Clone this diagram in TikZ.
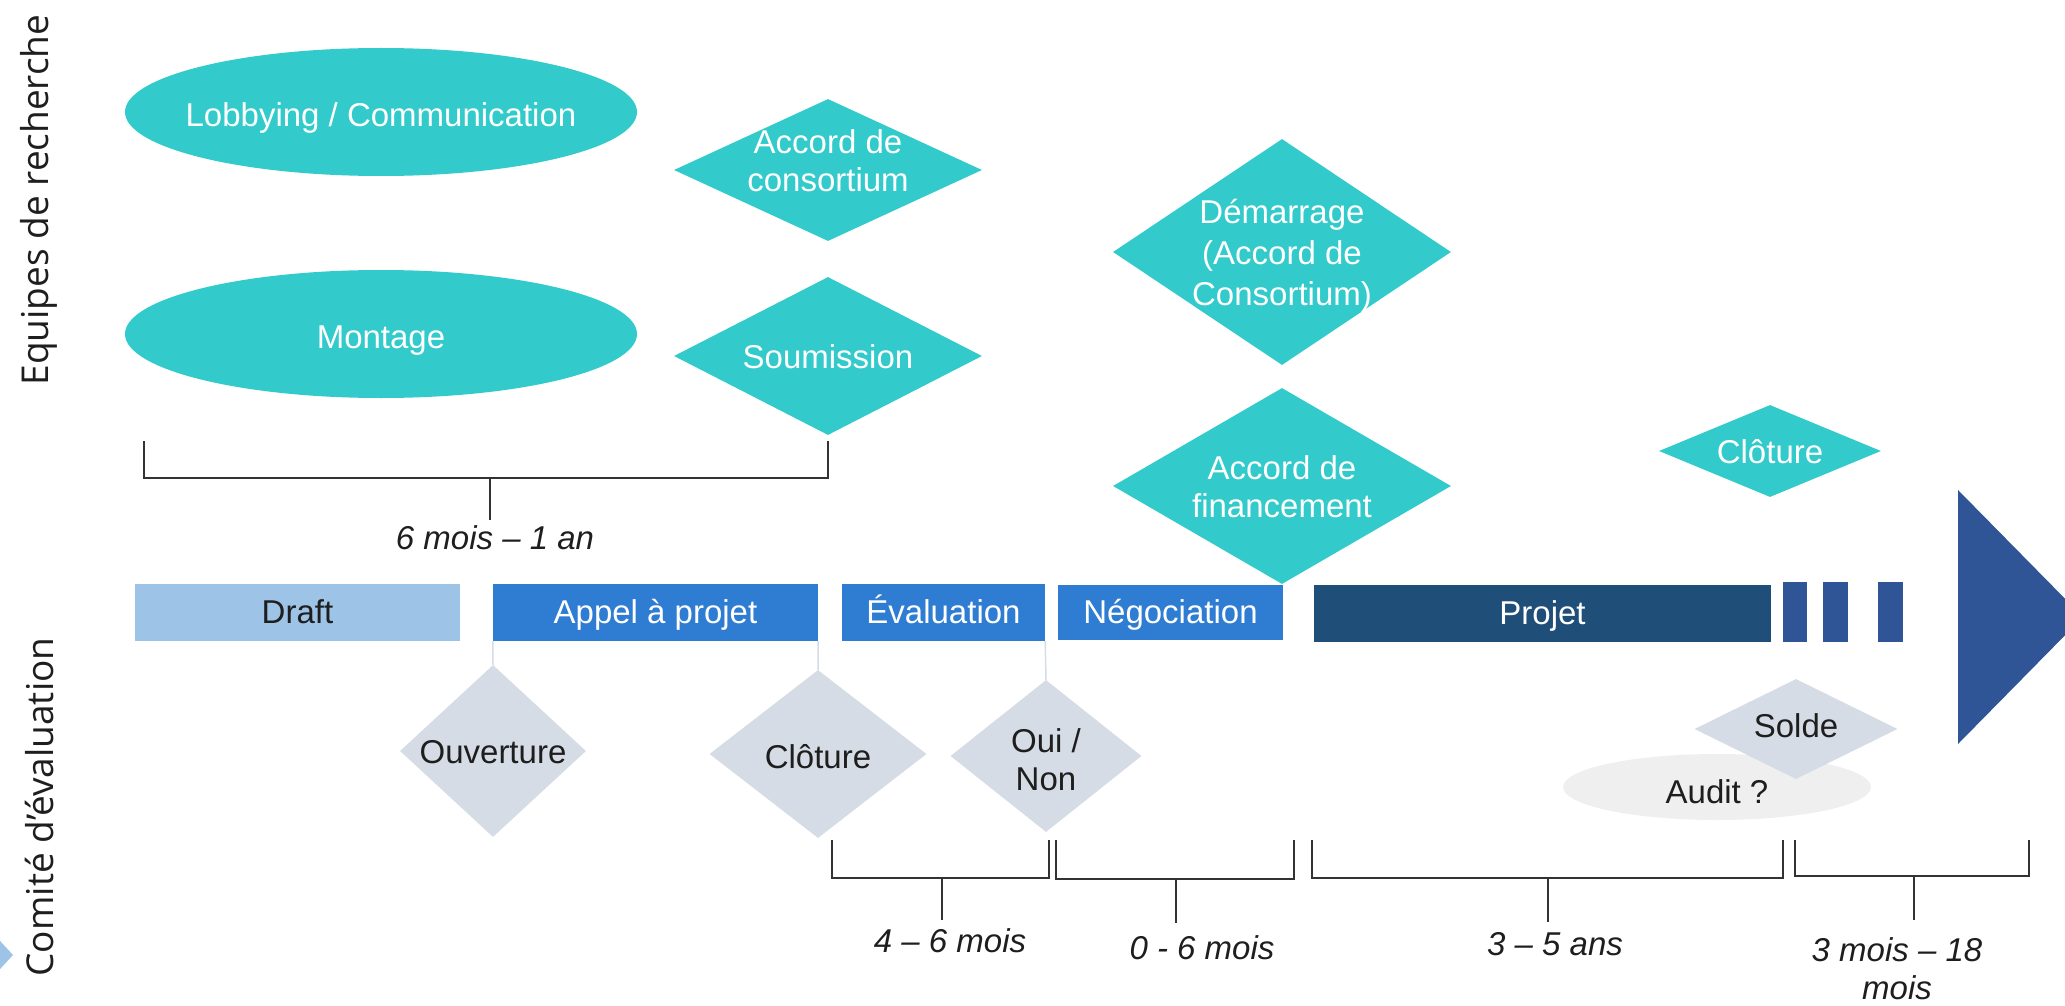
\documentclass[tikz,border=0pt]{standalone}
\usepackage{fontspec}
\setmainfont{Liberation Sans}
\newfontfamily\osans{Open Sans}
\usetikzlibrary{shapes.geometric}
\definecolor{teal1}{RGB}{50,202,202}
\definecolor{draftc}{RGB}{157,195,230}
\definecolor{midblue}{RGB}{46,125,210}
\definecolor{navy}{RGB}{31,78,121}
\definecolor{royal}{RGB}{47,85,151}
\definecolor{grayd}{RGB}{214,220,229}
\definecolor{auditc}{RGB}{239,239,239}
\definecolor{txtd}{RGB}{30,30,30}
\newcommand\zbox[2][-6pt]{\makebox[0pt]{\raisebox{#1}[\height][\depth]{\begin{tabular}{@{}c@{}}#2\end{tabular}}}}
\newcommand\shpfont{\fontsize{33}{38}\selectfont}
\begin{document}
\begin{tikzpicture}[x=1pt,y=-1pt,
  tdia/.style={diamond, fill=teal1, inner sep=0pt, text=white, font=\shpfont},
  gdia/.style={diamond, fill=grayd, inner sep=0pt, text=txtd, font=\shpfont},
  tell/.style={ellipse, fill=teal1, inner sep=0pt, text=white, font=\shpfont},
  barbox/.style={rectangle, inner sep=0pt, minimum height=57pt, text height=30pt, text depth=8pt, text=white, font=\shpfont},
  dur/.style={font=\shpfont\itshape, text=txtd, align=center},
  brk/.style={draw=black!80, line width=2pt},
  link/.style={draw=grayd, line width=1.5pt},
  side/.style={rotate=90, font=\osans\fontsize{37}{40}\selectfont, text=txtd}
]
\useasboundingbox (0,0) rectangle (2065,1006);

% side labels
\node[side] (eq) at (39,200) {Equipes de recherche};
\node[side] (co) at (40,807) {Comité d’évaluation};
\fill[draftc] (-22,917) -- (13,955) -- (-22,993) -- cycle;

% research team shapes
\node[tell, minimum width=512pt, minimum height=128pt] (lob) at (381,112) {\zbox[-7pt]{Lobbying / Communication}};
\node[tell, minimum width=512pt, minimum height=128pt] (mon) at (381,334) {\zbox[-7pt]{Montage}};
\node[tdia, minimum width=308pt, minimum height=142pt] (accc) at (828,170) {\zbox[5pt]{Accord de\\consortium}};
\node[tdia, minimum width=308pt, minimum height=158pt] (soum) at (828,356) {\zbox[-5pt]{Soumission}};
\node[tdia, minimum width=338pt, minimum height=226pt] (dem) at (1282,252) {\zbox[-5pt]{Démarrage\\[3pt](Accord de\\[3pt]Consortium)}};
\node[tdia, minimum width=338pt, minimum height=196pt] (fin) at (1282,486) {\zbox[-5pt]{Accord de\\financement}};
\node[tdia, minimum width=222pt, minimum height=92pt] (clo1) at (1770,451) {\zbox[-5pt]{Clôture}};

% timeline bars
\node[barbox, fill=draftc, text=txtd, minimum width=325pt] (draft) at (297.5,612) {Draft};
\node[barbox, fill=midblue, minimum width=325pt] (appel) at (655.5,612.5) {Appel à projet};
\node[barbox, fill=midblue, minimum width=203pt] (eval) at (943.5,612.5) {Évaluation};
\node[barbox, fill=midblue, minimum width=225pt, minimum height=55pt] (nego) at (1170.5,612.5) {Négociation};
\node[barbox, fill=navy, minimum width=457pt] (projet) at (1542.5,613) {Projet};
\node[barbox, fill=royal, minimum width=24pt, minimum height=60pt] (s1) at (1795,612) {};
\node[barbox, fill=royal, minimum width=25pt, minimum height=60pt] (s2) at (1835.5,612) {};
\node[barbox, fill=royal, minimum width=25pt, minimum height=60pt] (s3) at (1890.5,612) {};
\fill[royal] (1958,490) -- (2083,617) -- (1958,744) -- cycle;

% evaluation committee shapes
\node[gdia, minimum width=186pt, minimum height=172pt] (ouv) at (493,751) {\zbox[-5pt]{Ouverture}};
\node[gdia, minimum width=217pt, minimum height=168pt] (clo2) at (818,754) {\zbox[-7pt]{Clôture}};
\node[gdia, minimum width=191pt, minimum height=152pt] (oui) at (1046,756) {\zbox[-8pt]{Oui /\\Non}};
\node[ellipse, fill=auditc, inner sep=0pt, minimum width=308pt, minimum height=66pt, text=txtd, font=\shpfont] (audit) at (1717,787) {\zbox[-9pt]{Audit ?}};
\node[gdia, minimum width=203pt, minimum height=100pt] (solde) at (1796,729) {\zbox[-1pt]{Solde}};

% links
\draw[link] (appel.south west) -- (ouv.north);
\draw[link] (appel.south east) -- (clo2.north);
\draw[link] (eval.south east) -- (oui.north);

% brackets
\draw[brk] (144,441) |- (828,478) -- (828,441);
\draw[brk] (490,478) -- (490,520);
\node[dur] (d1) at (495,538) {6 mois – 1 an};

\draw[brk] (832,840) |- (1049,878) -- (1049,840);
\draw[brk] (942,878) -- (942,920);
\node[dur] (d2) at (950,941) {4 – 6 mois};

\draw[brk] (1056,840) |- (1294,879) -- (1294,840);
\draw[brk] (1176,879) -- (1176,923);
\node[dur] (d3) at (1202,948) {0 - 6 mois};

\draw[brk] (1312,840) |- (1783,878) -- (1783,840);
\draw[brk] (1548,878) -- (1548,922);
\node[dur] (d4) at (1555,944) {3 – 5 ans};

\draw[brk] (1795,840) |- (2029,876) -- (2029,840);
\draw[brk] (1914,876) -- (1914,920);
\node[dur] (d5) at (1897,969) {3 mois – 18\\mois};
\end{tikzpicture}
\end{document}
